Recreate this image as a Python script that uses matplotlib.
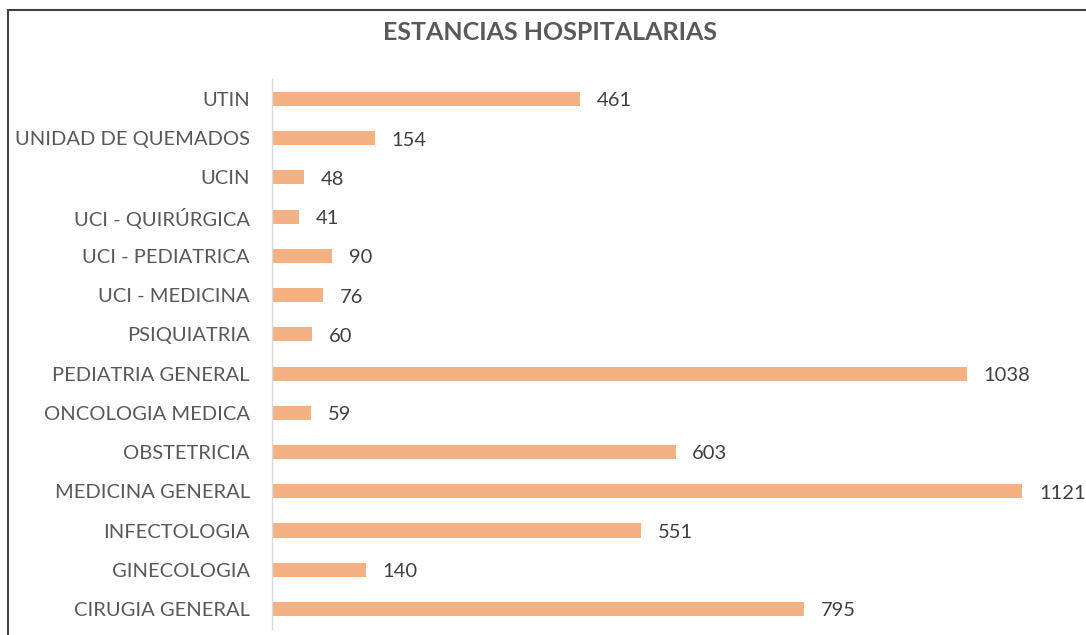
import matplotlib
matplotlib.use('Agg')
import matplotlib.pyplot as plt
from matplotlib.patches import Rectangle

categorias = ['CIRUGIA GENERAL', 'GINECOLOGIA', 'INFECTOLOGIA', 'MEDICINA GENERAL',
              'OBSTETRICIA', 'ONCOLOGIA MEDICA', 'PEDIATRIA GENERAL', 'PSIQUIATRIA',
              'UCI - MEDICINA', 'UCI - PEDIATRICA', 'UCI - QUIRÚRGICA', 'UCIN',
              'UNIDAD DE QUEMADOS', 'UTIN']
estancias = [795, 140, 551, 1121, 603, 59, 1038, 60, 76, 90, 41, 48, 154, 461]

plt.rcParams['font.family'] = ['Lato', 'DejaVu Sans']

fig = plt.figure(figsize=(10.86, 6.35), dpi=100)
ax = fig.add_axes([272 / 1086, 0.0101, 803 / 1086, 0.865])

pos = range(len(categorias))
ax.barh(pos, estancias, height=0.36, color='#F4B183')
for y, v in zip(pos, estancias):
    ax.text(v + 25, y - 0.05, str(v), va='center', ha='left', fontsize=14.5, color='#404040')

ax.set_xlim(0, 1200)
ax.set_ylim(-0.5, len(categorias) - 0.5)
ax.set_yticks(list(pos))
ax.set_yticklabels(categorias, fontsize=14.5, color='#595959')
ax.tick_params(axis='y', length=0, pad=16)
ax.set_xticks([])
for s in ['top', 'right', 'bottom']:
    ax.spines[s].set_visible(False)
ax.spines['left'].set_color('#D9D9D9')
ax.spines['left'].set_linewidth(1)

fig.text(550 / 1086, 1 - 32 / 635, 'ESTANCIAS HOSPITALARIAS', ha='center', va='center',
         fontsize=18, fontweight='bold', color='#595959')

# marco del grafico
fig.patches.append(Rectangle((8 / 1086, -0.1), 1.2, 1 - 10 / 635 + 0.1,
                             transform=fig.transFigure, fill=False,
                             edgecolor='#404040', linewidth=1.5))

fig.savefig('out.png', dpi=100)
